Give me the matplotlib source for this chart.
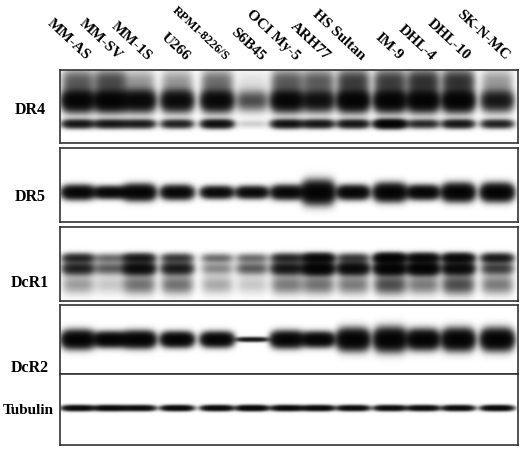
import numpy as np
import matplotlib
matplotlib.use("Agg")
import matplotlib.pyplot as plt

W, H = 520, 449

lanes = ["MM-AS", "MM-SV", "MM-1S", "U266", "RPMI-8226/S", "S6B45", "OCI My-5",
         "ARH77", "HS Sultan", "IM-9", "DHL-4", "DHL-10", "SK-N-MC"]
lane_x = [78, 110, 139, 177, 217, 252, 287, 318, 353, 390, 423, 458, 497]

# panel name, top px, bottom px, label y px
panels = [
    ("DR4", 70, 143, 110),
    ("DR5", 148, 222, 197),
    ("DcR1", 227, 301, 283),
    ("DcR2", 305, 374, 368),
    ("Tubulin", 374, 445, 411),
]

# bands per panel: (y fraction from top, half height, per-lane intensity)
dr4_main = [0.95, 1.0, 0.85, 0.8, 0.85, 0.3, 0.9, 0.7, 1.0, 1.0, 1.0, 1.0, 0.6]
dr4_low = [0.6, 0.6, 0.55, 0.5, 0.7, 0.05, 0.65, 0.6, 0.6, 1.0, 0.45, 0.6, 0.5]
dr4_smear = [0.25, 0.3, 0.12, 0.12, 0.2, 0.03, 0.25, 0.25, 0.35, 0.35, 0.4, 0.4, 0.12]
dr5_band = [0.9, 0.85, 0.95, 0.85, 0.8, 0.8, 0.85, 1.0, 0.9, 1.0, 0.9, 1.0, 1.0]
dr5_height = [0.08, 0.07, 0.09, 0.08, 0.07, 0.07, 0.08, 0.13, 0.08, 0.1, 0.08, 0.1, 0.1]
dcr1_up = [0.45, 0.2, 0.55, 0.35, 0.2, 0.2, 0.45, 0.8, 0.35, 1.0, 0.8, 0.8, 0.55]
dcr1_low = [0.5, 0.25, 0.75, 0.55, 0.15, 0.25, 0.6, 1.0, 0.8, 1.0, 1.0, 0.8, 0.35]
dcr1_smear = [0.12, 0.06, 0.2, 0.2, 0.1, 0.06, 0.18, 0.2, 0.18, 0.3, 0.18, 0.3, 0.18]
dcr2_band = [1.0, 1.0, 1.0, 1.0, 0.95, 0.6, 0.95, 0.95, 1.0, 1.0, 1.0, 1.0, 1.0]
dcr2_height = [0.11, 0.09, 0.1, 0.09, 0.09, 0.03, 0.1, 0.09, 0.13, 0.14, 0.12, 0.13, 0.13]
tub_band = [0.85, 0.85, 0.8, 0.85, 0.85, 0.9, 0.85, 0.85, 0.8, 0.8, 0.8, 0.8, 0.85]

bands = {
    "DR4": [(0.42, 0.13, dr4_main), (0.74, 0.055, dr4_low), (0.15, 0.15, dr4_smear)],
    "DR5": [(0.6, dr5_height, dr5_band)],
    "DcR1": [(0.42, 0.06, dcr1_up), (0.56, 0.08, dcr1_low), (0.78, 0.12, dcr1_smear)],
    "DcR2": [(0.5, dcr2_height, dcr2_band)],
    "Tubulin": [(0.48, 0.035, tub_band)],
}

fig = plt.figure(figsize=(W / 100, H / 100), dpi=100)

xs = np.arange(60, 518, 0.5)
for name, top, bot, ly in panels:
    ax = fig.add_axes([60 / W, 1 - bot / H, 458 / W, (bot - top) / H])
    ys = np.linspace(0, 1, 200)
    X, Y = np.meshgrid(xs, ys)
    dens = np.zeros_like(X)
    for yc, hh, inten in bands[name]:
        for i, cx in enumerate(lane_x):
            h = hh[i] if isinstance(hh, list) else hh
            dens += 4 * inten[i] * np.exp(-((X - cx) / 15.5) ** 4) * np.exp(-((Y - yc) / h) ** 2)
    img = 1 - np.exp(-dens)
    ax.imshow(img, cmap="gray_r", vmin=0, vmax=1, aspect="auto",
              extent=[60, 518, 1, 0], interpolation="bilinear")
    ax.set_xlim(60, 518)
    ax.set_ylim(1, 0)
    ax.set_xticks([])
    ax.set_yticks([])
    for s in ax.spines.values():
        s.set_linewidth(1.2)
        s.set_color("#333333")
    fig.text(30 / W if name != "Tubulin" else 28 / W, 1 - ly / H, name,
             ha="center", va="center", fontsize=11.5 if name != "Tubulin" else 11,
             fontweight="bold", family="Liberation Serif")

for name, cx in zip(lanes, lane_x):
    small = len(name) > 9
    fig.text((cx + 6) / W, 1 - 63 / H, name, rotation=-43, rotation_mode="anchor",
             ha="right", va="bottom", fontsize=9 if small else 11, fontweight="bold",
             family="Liberation Serif")

fig.savefig("out.png", dpi=100)
